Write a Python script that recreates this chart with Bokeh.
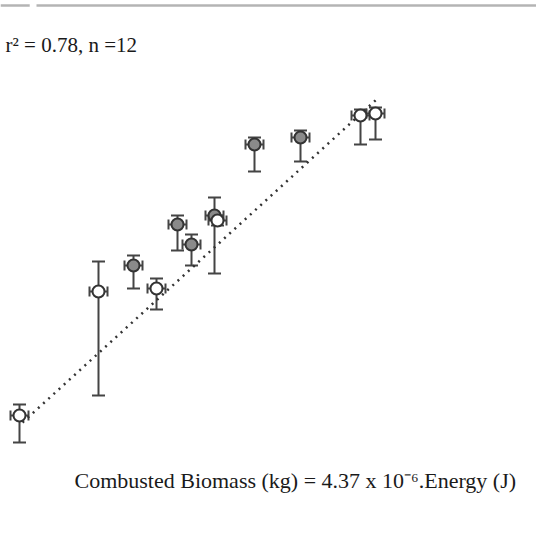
from bokeh.plotting import figure
from bokeh.models import Range1d, Whisker, TeeHead, ColumnDataSource, Label
from bokeh.embed import file_html
from bokeh.resources import INLINE

# Energy (MJ, arbitrary scale) and combusted biomass (kg)
energy = [0.475, 2.45, 3.325, 3.90, 4.425, 4.775, 5.35, 5.425, 6.35, 7.50, 9.00, 9.375]
biomass = [2.70, 5.80, 6.45, 5.875, 7.475, 6.975, 7.70, 7.575, 9.475, 9.65, 10.20, 10.25]
biomass_upper = [2.975, 6.55, 6.70, 6.125, 7.70, 7.225, 8.15, 7.70, 9.65, 9.825, 10.35, 10.40]
biomass_lower = [2.025, 3.20, 5.875, 5.35, 6.825, 6.45, 6.25, 7.45, 8.80, 9.05, 9.475, 9.60]
energy_err = [0.225] * 12
filled = [False, False, True, False, True, True, True, False, True, True, False, False]

# regression line end points
fit_energy = [0.55, 9.40]
fit_biomass = [2.525, 10.60]

src = ColumnDataSource(dict(
    e=energy, b=biomass, bu=biomass_upper, bl=biomass_lower,
    el=[e - d for e, d in zip(energy, energy_err)],
    eu=[e + d for e, d in zip(energy, energy_err)],
    fill=["#8a8a8a" if f else "white" for f in filled],
))

p = figure(width=536, height=523, output_backend="svg", toolbar_location=None,
           x_range=Range1d(0, 13.4), y_range=Range1d(0, 13.075),
           min_border=0, outline_line_color=None,
           x_axis_location=None, y_axis_location=None)
p.grid.visible = False
p.background_fill_color = "white"

# top border line (with small gap)
p.segment(x0=[0, 0.9], y0=[12.95, 12.95], x1=[0.73, 13.4], y1=[12.95, 12.95],
          line_color="#b4b4b4", line_width=2.5)

# regression line
p.line(fit_energy, fit_biomass, line_color="#333333", line_width=2.5, line_dash="2 5")

vw = Whisker(source=src, base="e", upper="bu", lower="bl", dimension="height",
             line_color="#444444", line_width=2,
             upper_head=TeeHead(size=13, line_color="#444444", line_width=2),
             lower_head=TeeHead(size=13, line_color="#444444", line_width=2))
hw = Whisker(source=src, base="b", upper="eu", lower="el", dimension="width",
             line_color="#444444", line_width=2,
             upper_head=TeeHead(size=10, line_color="#444444", line_width=2),
             lower_head=TeeHead(size=10, line_color="#444444", line_width=2))
p.add_layout(vw)
p.add_layout(hw)

p.scatter("e", "b", source=src, size=12, fill_color="fill", line_color="#333333",
          line_width=2, level="overlay")

p.add_layout(Label(x=0.125, y=11.975, text="r\u00b2 = 0.78, n =12",
                   text_font="Liberation Serif", text_font_size="21px",
                   text_baseline="alphabetic", text_color="#1a1a1a"))
p.add_layout(Label(x=1.85, y=1.075,
                   text="Combusted Biomass (kg) = 4.37 x 10\u207b\u2076.Energy (J)",
                   text_font="Liberation Serif", text_font_size="22px",
                   text_baseline="alphabetic", text_color="#1a1a1a"))

open("out.html", "w").write(file_html(p, INLINE))
